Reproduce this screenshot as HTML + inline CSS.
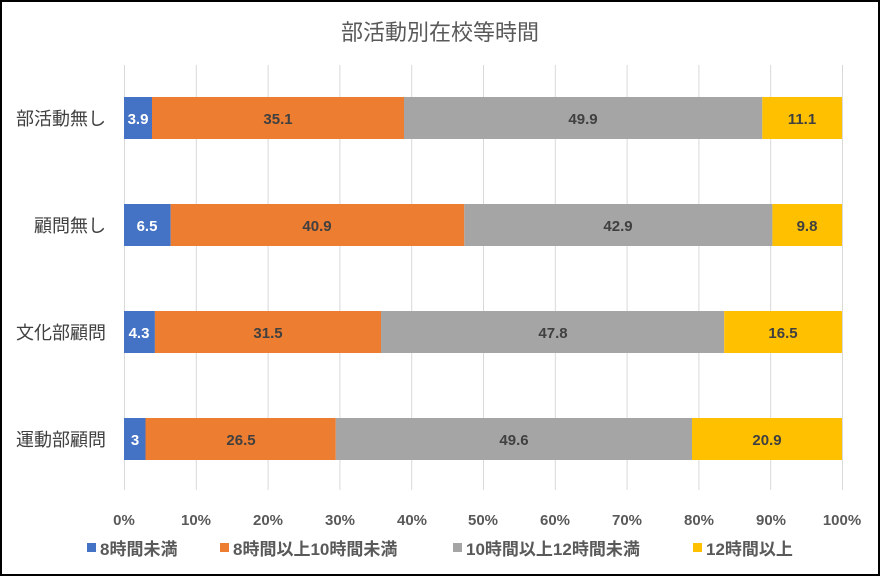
<!DOCTYPE html>
<html><head><meta charset="utf-8"><style>
body{margin:0;background:#fff}
svg{display:block}
text{font-family:"Liberation Sans","Noto Sans CJK JP",sans-serif}
.c{font-size:18px;fill:#404040}
.l{font-size:15px;font-weight:bold;fill:#404040;text-anchor:middle}
.t{font-size:15px;font-weight:bold;fill:#595959;text-anchor:middle}
.g{font-size:17px;font-weight:bold;fill:#595959}
</style></head><body>
<svg width="880" height="576" viewBox="0 0 880 576">
<rect x="1" y="1" width="878" height="574" fill="#fff" stroke="#000" stroke-width="2"/>
<text x="440" y="40" text-anchor="middle" style="font-size:22px;fill:#595959">部活動別在校等時間</text>
<g stroke="#d9d9d9" stroke-width="1">
<line x1="124.5" y1="65" x2="124.5" y2="490"/><line x1="196.3" y1="65" x2="196.3" y2="490"/><line x1="268.1" y1="65" x2="268.1" y2="490"/><line x1="339.9" y1="65" x2="339.9" y2="490"/><line x1="411.7" y1="65" x2="411.7" y2="490"/><line x1="483.5" y1="65" x2="483.5" y2="490"/><line x1="555.3" y1="65" x2="555.3" y2="490"/><line x1="627.1" y1="65" x2="627.1" y2="490"/><line x1="698.9" y1="65" x2="698.9" y2="490"/><line x1="770.7" y1="65" x2="770.7" y2="490"/><line x1="842.5" y1="65" x2="842.5" y2="490"/>
</g>
<rect x="124" y="97" width="28" height="42" fill="#4472c4"/><rect x="152" y="97" width="252" height="42" fill="#ed7d31"/><rect x="404" y="97" width="358.3" height="42" fill="#a5a5a5"/><rect x="762.3" y="97" width="79.7" height="42" fill="#ffc000"/>
<text class="l" x="138" y="124" style="fill:#fff">3.9</text><text class="l" x="278" y="124">35.1</text><text class="l" x="583" y="124">49.9</text><text class="l" x="802" y="124">11.1</text>
<rect x="124" y="204" width="46.7" height="42" fill="#4472c4"/><rect x="170.7" y="204" width="293.6" height="42" fill="#ed7d31"/><rect x="464.3" y="204" width="308.1" height="42" fill="#a5a5a5"/><rect x="772.4" y="204" width="69.6" height="42" fill="#ffc000"/>
<text class="l" x="147" y="231" style="fill:#fff">6.5</text><text class="l" x="317" y="231">40.9</text><text class="l" x="618" y="231">42.9</text><text class="l" x="807" y="231">9.8</text>
<rect x="124" y="311" width="30.9" height="42" fill="#4472c4"/><rect x="154.9" y="311" width="226.1" height="42" fill="#ed7d31"/><rect x="381" y="311" width="343.2" height="42" fill="#a5a5a5"/><rect x="724.2" y="311" width="117.8" height="42" fill="#ffc000"/>
<text class="l" x="139" y="338" style="fill:#fff">4.3</text><text class="l" x="268" y="338">31.5</text><text class="l" x="553" y="338">47.8</text><text class="l" x="783" y="338">16.5</text>
<rect x="124" y="418" width="21.5" height="42" fill="#4472c4"/><rect x="145.5" y="418" width="190.3" height="42" fill="#ed7d31"/><rect x="335.8" y="418" width="356.2" height="42" fill="#a5a5a5"/><rect x="692" y="418" width="150" height="42" fill="#ffc000"/>
<text class="l" x="135" y="445" style="fill:#fff">3</text><text class="l" x="241" y="445">26.5</text><text class="l" x="514" y="445">49.6</text><text class="l" x="767" y="445">20.9</text>
<g class="c" text-anchor="end">
<text x="106" y="125">部活動無し</text><text x="106" y="232">顧問無し</text><text x="106" y="339">文化部顧問</text><text x="106" y="446">運動部顧問</text>
</g>
<text class="t" x="124" y="525">0%</text><text class="t" x="196" y="525">10%</text><text class="t" x="268" y="525">20%</text><text class="t" x="340" y="525">30%</text><text class="t" x="412" y="525">40%</text><text class="t" x="483" y="525">50%</text><text class="t" x="555" y="525">60%</text><text class="t" x="627" y="525">70%</text><text class="t" x="699" y="525">80%</text><text class="t" x="771" y="525">90%</text><text class="t" x="842" y="525">100%</text>
<rect x="87" y="543" width="9" height="9" fill="#4472c4"/><text class="g" x="100" y="555">8時間未満</text>
<rect x="220" y="543" width="9" height="9" fill="#ed7d31"/><text class="g" x="233" y="555">8時間以上10時間未満</text>
<rect x="453" y="543" width="9" height="9" fill="#a5a5a5"/><text class="g" x="466" y="555">10時間以上12時間未満</text>
<rect x="693" y="543" width="9" height="9" fill="#ffc000"/><text class="g" x="706" y="555">12時間以上</text>
</svg>
</body></html>
